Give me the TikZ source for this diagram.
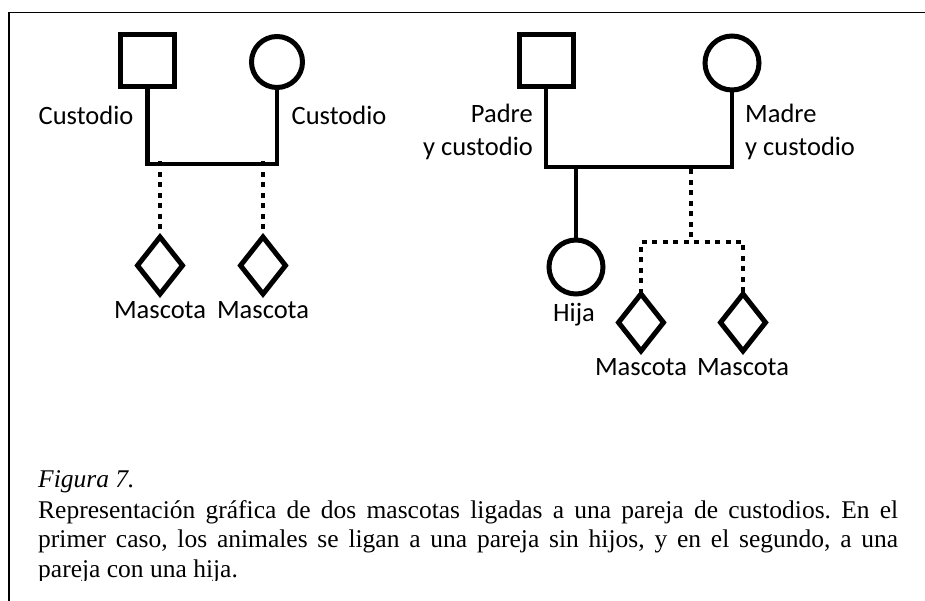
\documentclass[tikz,border=0pt]{standalone}
\usepackage{fontspec}
\setmainfont{Liberation Serif}
\newfontfamily\labfont{Carlito}
\usetikzlibrary{shapes.geometric}
\frenchspacing

\begin{document}
\begin{tikzpicture}[x=1pt,y=-1pt,
  sym/.style={draw, line width=5pt, inner sep=0pt, outer sep=0pt},
  male/.style={sym, rectangle, minimum width=54pt, minimum height=52pt},
  female/.style={sym, circle, minimum size=#1},
  pet/.style={sym, diamond, minimum width=45pt, minimum height=57pt},
  rel/.style={line width=4.5pt},
  petline/.style={line width=4.5pt, dash pattern=on 5pt off 5.5pt},
  lbl/.style={font=\labfont\fontsize{26.5}{33}\selectfont, inner sep=0pt},
  captext/.style={font=\fontsize{25.5}{29}\selectfont, inner sep=0pt, anchor=base west}
]
\useasboundingbox (0,0) rectangle (925,601);
\draw[line width=1.5pt] (9,601) -- (9,12.5) -- (925,12.5);

% left family
\node[male] (sq1) at (147.5,60.5) {};
\node[female=51pt] (ci1) at (277,62) {};
\coordinate (j1) at (147.5,164);
\coordinate (j2) at (277,164);
\draw[rel] (sq1.south) -- (j1) -- (j2) -- (ci1.south);
\node[pet] (d1) at (160,265.5) {};
\node[pet] (d2) at (263,265.5) {};
\draw[petline] ([yshift=2.5pt]d1.north |- j1) -- (d1.north);
\draw[petline] ([yshift=2.5pt]d2.north |- j1) -- (d2.north);
\node[lbl] (l1) at (86,115) {Custodio};
\node[lbl] (l2) at (339,115) {Custodio};
\node[lbl] (l3) at (160,310) {Mascota};
\node[lbl] (l4) at (263,310) {Mascota};

% right family
\node[male] (sq2) at (546,60.5) {};
\node[female=54pt] (ci2) at (732,63) {};
\coordinate (j3) at (546,167);
\coordinate (j4) at (732,167);
\draw[rel] (sq2.south) -- (j3) -- (j4) -- (ci2.south);
\node[female=54pt] (hija) at (576,267) {};
\coordinate (h1) at (576,167);
\draw[rel] (h1) -- (hija.north);
\node[pet] (d3) at (641,322.5) {};
\node[pet] (d4) at (743,322.5) {};
\coordinate (k3) at (691,169.5);
\coordinate (k4) at (691,242);
\draw[petline] (k3) -- (k4);
\draw[petline] (d3.north) -- (d3.north |- k4) -- (d4.north |- k4) -- (d4.north);
\node[lbl, align=right, anchor=east] (l5) at (533,131.5) {Padre\\y custodio};
\node[lbl, align=left, anchor=west] (l6) at (745,131.5) {Madre\\y custodio};
\node[lbl] (l7) at (574,315) {Hija};
\node[lbl] (l8) at (641,367) {Mascota};
\node[lbl] (l9) at (743,367) {Mascota};

% caption
\begin{scope}
\clip (0,440) rectangle (925,580.5);
\node[captext] (c0) at (38,487) {\itshape Figura 7.};
\node[captext] (c1) at (38,518) {\makebox[860pt][s]{Representación gráfica de dos mascotas ligadas a una pareja de custodios. En el}};
\node[captext] (c2) at (38,547.5) {\makebox[860pt][s]{primer caso, los animales se ligan a una pareja sin hijos, y en el segundo, a una}};
\node[captext] (c3) at (38,577) {pareja con una hija.};
\end{scope}
\end{tikzpicture}
\end{document}
